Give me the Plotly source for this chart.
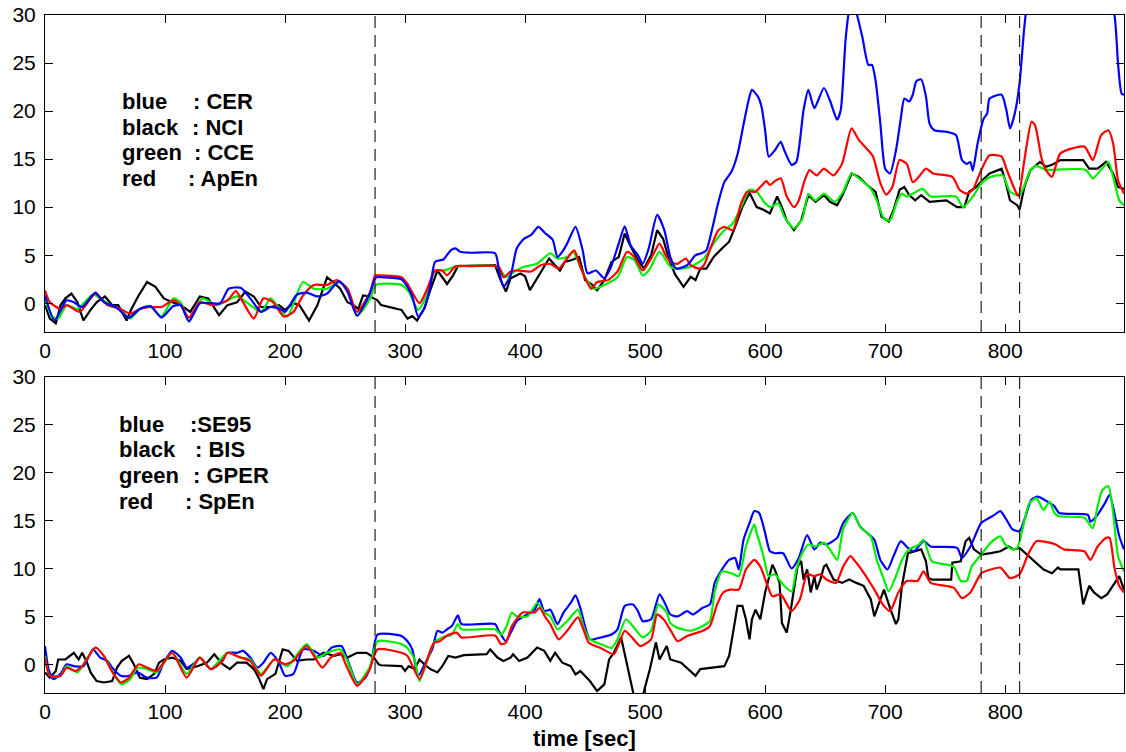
import plotly.graph_objects as go

# ---------------- data (time [sec], value) ----------------
TOP_CER = [(0,0.8),(8,-1.8),(18,0.3),(24,0.1),(31,-0.4),(42,1.1),(49,0.1),(59,-0.4),(70,-1.5),(79,-0.6),(88,-0.3),(97,-1.5),(107,-0.3),(113,-0.2),(120,-1.9),(129,0),(138,0),(146,0),(153,1.5),(163,1.6),(171,0.5),(180,-0.9),(188,-0.4),(196,-0.6),(200,-0.9),(210,0.9),(218,1.1),(227,0.7),(235,1.0),(245,2.3),(252,1.2),(260,-1.3),(270,0.8),(276,2.7),(280,2.7),(297,2.5),(302,1.7),(306,0.7),(311,-1.4),(316,-0.55),(321,1.7),(325,4.3),(332,4.55),(338,5.5),(342,5.7),(346,5.35),(354,5.25),(375,5.2),(378,3.6),(382,1.7),(388,2.9),(393,5.7),(399,6.7),(405,7.1),(411,7.95),(417,7.25),(423,6.6),(427,4.8),(431,5.35),(435,6.2),(442,7.95),(448,5.5),(452,3.1),(459,3.4),(466,2.6),(471,3.6),(478,6.2),(483,8.0),(488,6.0),(494,5.0),(498,4.1),(503,5.7),(510,9.2),(516,7.6),(521,4.8),(526,3.6),(535,3.95),(542,5.0),(547,5.2),(551,5.5),(556,7.8),(561,10.5),(566,12.6),(572,13.7),(577,15.5),(582,18.6),(586,21.0),(589,22.2),(594,21.5),(597,20.45),(600,18.0),(603,15.25),(608,15.9),(613,16.8),(616,15.9),(622,14.4),(626,14.7),(632,20.1),(636,22.2),(641,20.3),(649,22.4),(654,21.1),(660,19.1),(663,20.1),(667,27.4),(670,30.5),(673,31.5),(677,29.8),(681,27.7),(686,24.8),(689,24.8),(692,23.2),(696,18.7),(700,14.0),(704,13.5),(709,15.9),(713,19.2),(716,21.3),(720,21.0),(723,21.7),(726,23.1),(730,23.3),(734,21.5),(737,18.7),(741,18.0),(751,17.85),(759,17.5),(764,14.9),(768,14.5),(771,14.7),(773,13.8),(777,16.6),(782,19.2),(785,19.75),(787,21.3),(797,21.7),(801,20.1),(804,18.2),(808,19.75),(812,22.9),(816,28.8),(819,31.5),(830,34),(850,35),(870,34),(885,32),(891,30),(894,25),(897,21.8),(899,21.7)]
TOP_NCI = [(0,-0.2),(4,-1.6),(9,-2.1),(13,-0.2),(17,0.5),(22,1.0),(27,0.1),(32,-1.8),(38,-0.7),(43,0.1),(50,0.7),(56,-0.2),(61,-0.2),(68,-1.8),(72,-0.6),(78,0.8),(85,2.2),(92,1.7),(99,0.5),(106,0.1),(113,-0.2),(121,-0.9),(129,0.7),(136,0.5),(145,-1.25),(152,-0.2),(160,0.1),(167,1.2),(174,0.7),(180,-0.4),(188,-0.4),(195,-0.2),(200,-0.7),(207,0),(212,-0.2),(220,-1.8),(227,-0.2),(235,2.7),(240,2.2),(246,1.5),(252,0.1),(257,-0.2),(261,-0.6),(265,0.8),(271,0.7),(274,0.5),(277,0.3),(280,-0.2),(297,-0.7),(302,-1.6),(306,-1.35),(310,-1.8),(316,-0.55),(321,1.35),(327,3.4),(331,2.7),(335,2.0),(340,2.9),(344,3.85),(375,3.95),(379,2.6),(384,1.2),(388,2.6),(396,3.1),(400,2.8),(404,1.35),(409,2.4),(414,3.4),(420,4.65),(425,3.95),(429,3.4),(433,4.3),(439,4.5),(445,4.8),(450,2.4),(456,1.9),(460,1.35),(466,2.4),(472,4.3),(478,4.8),(483,7.25),(488,5.9),(494,4.5),(499,3.6),(505,5.0),(510,7.6),(515,6.7),(520,4.5),(525,3.0),(532,1.7),(538,2.75),(542,2.4),(546,3.6),(551,3.6),(557,4.8),(564,5.7),(570,6.4),(575,7.95),(581,10.0),(587,11.5),(593,10.0),(599,9.7),(604,9.35),(610,11.1),(614,10.0),(618,8.6),(624,7.6),(630,8.6),(636,11.25),(642,10.55),(649,11.25),(654,10.55),(660,10.2),(665,11.4),(672,13.5),(678,13.15),(685,12.3),(692,11.6),(697,9.0),(703,8.5),(707,9.7),(712,11.8),(716,12.1),(720,11.25),(725,10.7),(730,11.25),(737,10.55),(751,10.7),(760,10.0),(766,10.0),(770,11.6),(776,12.1),(781,12.8),(787,13.5),(797,14.0),(800,12.8),(804,10.7),(810,10.2),(812,9.75),(816,12.1),(821,13.85),(829,14.7),(834,14.2),(839,14.4),(846,14.9),(865,14.9),(870,14.0),(877,14.0),(884,14.7),(890,13.5),(894,12.1),(899,11.9)]
TOP_CCE = [(0,0.5),(6,-1.4),(11,-1.6),(18,-0.2),(27,-0.6),(40,0.9),(52,0),(63,-0.7),(71,-1.6),(79,-0.6),(88,-0.4),(97,-1.4),(107,0.5),(113,0.1),(120,-1.9),(131,0.5),(143,-0.2),(160,0.7),(171,-0.2),(180,-0.9),(188,0.5),(196,-0.7),(202,-1.4),(215,2.2),(224,1.5),(235,1.5),(245,2.2),(252,1.5),(260,-1.3),(271,0.5),(276,1.9),(297,1.9),(303,1.2),(311,-0.7),(318,0.8),(325,3.4),(332,3.4),(343,3.8),(377,3.8),(384,2.7),(391,3.3),(399,3.8),(410,4.1),(421,5.2),(427,4.65),(435,4.8),(440,5.35),(449,2.9),(457,1.5),(466,1.9),(477,2.7),(485,4.8),(491,4.5),(498,2.9),(503,3.4),(512,5.35),(521,3.8),(527,3.6),(538,3.8),(549,4.65),(557,6.2),(566,7.6),(573,8.3),(580,10.0),(587,11.8),(593,11.6),(599,10.55),(604,10.0),(611,10.4),(616,9.0),(624,7.8),(631,8.8),(636,11.35),(642,10.7),(649,11.4),(658,10.55),(665,11.6),(672,13.5),(680,12.8),(688,11.9),(693,10.7),(699,8.8),(704,8.6),(710,10.6),(714,11.4),(718,11.1),(723,11.4),(731,11.9),(738,11.1),(759,11.1),(765,10.0),(773,11.1),(781,12.6),(788,13.15),(798,13.3),(804,11.6),(812,11.25),(821,13.85),(826,14.3),(834,13.9),(867,13.9),(873,13.0),(880,13.9),(886,14.7),(890,13.15),(895,10.7),(899,10.2)]
TOP_APEN = [(0,1.35),(4,0.1),(13,-0.6),(18,-0.2),(29,-0.9),(42,1.0),(52,-0.2),(63,-0.6),(71,-1.1),(79,-0.6),(88,-0.4),(97,-0.4),(107,0.3),(113,-0.2),(120,-1.5),(129,0.1),(140,-0.2),(152,0.3),(159,1.25),(165,0.1),(174,-1.6),(182,0.5),(190,0.1),(199,-1.4),(207,-0.9),(215,0.8),(224,1.9),(235,1.9),(243,2.4),(252,1.5),(260,-0.9),(271,1.2),(275,2.9),(277,2.9),(297,2.7),(302,2.0),(312,0),(318,1.35),(325,3.4),(331,3.4),(335,2.9),(342,3.85),(354,3.85),(378,3.8),(382,2.7),(388,3.3),(393,3.4),(405,3.3),(413,3.95),(421,4.1),(428,3.6),(435,4.65),(441,5.5),(446,3.8),(455,1.5),(460,2.2),(469,2.4),(477,3.3),(485,5.35),(491,4.8),(498,3.4),(505,4.65),(512,6.2),(517,5.0),(521,4.3),(527,4.1),(534,4.65),(538,3.95),(545,3.6),(549,3.95),(555,5.9),(561,7.6),(566,7.95),(573,7.6),(580,10.4),(585,11.6),(592,11.6),(596,12.1),(601,12.7),(604,12.3),(608,12.7),(613,13.0),(618,11.1),(624,10.0),(628,10.7),(633,12.8),(637,13.85),(643,13.3),(649,14.0),(657,13.3),(664,14.5),(672,18.2),(678,17.0),(686,15.9),(690,15.25),(696,12.5),(701,11.3),(706,12.1),(712,14.9),(718,14.5),(723,12.6),(728,13.15),(734,14.0),(740,13.5),(756,13.15),(762,11.8),(768,11.4),(773,11.8),(780,13.85),(787,15.4),(797,15.25),(801,14.0),(807,12.1),(811,11.15),(816,14.9),(822,18.9),(825,18.5),(830,15.25),(834,13.85),(839,13.15),(846,15.6),(866,16.3),(873,14.9),(880,17.5),(886,18.0),(890,16.6),(894,12.8),(899,11.4)]

BOT_SE95 = [(0,1.9),(3,-0.5),(7,-1.55),(13,-1.0),(18,0),(24,-0.2),(32,-0.2),(40,1.55),(46,0.7),(52,0.35),(56,-0.35),(63,-1.2),(70,-1.2),(77,-0.85),(85,-1.4),(93,-1.4),(99,0.17),(106,1.4),(113,0.7),(118,-0.35),(125,0.17),(129,0.7),(138,-0.5),(143,-0.2),(152,1.2),(160,1.2),(165,1.4),(171,0.7),(177,-0.35),(182,0.17),(188,1.2),(195,0.17),(200,-1.2),(207,-1.0),(215,1.55),(224,1.4),(232,0.87),(239,1.75),(247,1.9),(253,0.17),(260,-1.9),(267,-1.4),(272,0.17),(277,3.1),(297,2.95),(302,2.4),(306,1.55),(311,-1.2),(317,0.17),(323,1.7),(327,3.5),(331,3.3),(335,3.65),(339,4.0),(344,5.1),(347,4.2),(375,4.2),(378,3.5),(384,2.4),(388,3.3),(393,4.5),(399,5.0),(408,5.7),(412,6.8),(416,5.55),(421,5.7),(427,4.2),(432,5.4),(438,6.4),(442,7.2),(446,5.9),(454,2.6),(463,2.8),(472,3.1),(477,3.65),(483,6.1),(490,6.25),(494,5.55),(498,4.5),(505,4.7),(512,7.3),(517,6.25),(521,5.2),(527,5.0),(535,5.55),(540,5.2),(548,5.9),(554,6.25),(558,8.5),(564,9.9),(570,10.9),(575,11.1),(578,9.9),(582,13.0),(587,14.75),(591,16.0),(595,15.8),(600,13.7),(604,11.8),(608,11.6),(615,11.6),(622,10.0),(628,11.1),(635,13.5),(641,12.0),(646,12.7),(651,12.5),(660,13.2),(665,14.75),(673,15.8),(679,14.4),(685,13.7),(691,13.0),(696,10.9),(702,9.9),(707,11.3),(713,12.85),(719,12.15),(724,11.8),(732,12.85),(738,12.3),(760,12.15),(764,11.1),(771,12.3),(780,14.75),(787,15.3),(791,15.6),(796,16.0),(802,14.9),(806,14.1),(812,13.9),(816,15.1),(822,17.2),(827,17.5),(835,17.0),(841,16.5),(845,15.8),(869,15.6),(871,14.9),(876,15.45),(883,16.8),(887,17.7),(891,15.8),(895,13.4),(899,12.0)]
BOT_BIS = [(0,-0.85),(4,-1.4),(9,-0.7),(11,0.5),(17,0.5),(21,0.87),(24,1.2),(28,0.5),(31,1.2),(35,0.17),(38,-0.85),(43,-1.75),(49,-1.9),(56,-1.75),(60,-0.35),(64,0.35),(70,0.87),(74,0),(79,-1.4),(85,-1.55),(91,-1.0),(95,0.17),(99,0.5),(106,0.7),(113,0.35),(118,-0.5),(127,-0.2),(135,0.17),(141,1.05),(148,0),(154,-0.5),(160,0.17),(168,0.17),(174,-0.5),(178,-1.4),(182,-2.6),(185,-1.55),(192,-1.0),(198,1.55),(203,1.4),(210,0.35),(218,0.5),(224,0.5),(232,1.2),(241,0.87),(246,1.05),(252,0.7),(260,1.2),(268,1.2),(274,0.7),(278,0),(280,-0.1),(297,-0.2),(300,-0.7),(303,-0.2),(308,-0.5),(312,0.5),(316,0),(321,-0.5),(327,-0.85),(331,-0.2),(336,0.87),(342,0.7),(349,0.95),(368,1.05),(371,1.55),(377,0.7),(382,0.35),(388,0.7),(390,1.05),(395,0.35),(402,0.7),(410,1.75),(416,1.4),(421,0.35),(425,1.2),(431,0.17),(438,-0.2),(442,-1.05),(446,-0.7),(454,-1.75),(460,-2.8),(466,-2.1),(470,0.5),(474,1.2),(480,2.8),(485,-0.2),(491,-3.5),(498,-3.3),(504,-0.5),(509,2.3),(512,0.5),(518,1.9),(521,0.5),(530,0.17),(538,-0.7),(542,-1.2),(546,-0.5),(555,-0.35),(566,-0.2),(570,0.87),(573,2.95),(577,6.1),(581,6.1),(584,4.7),(587,2.6),(589,4.7),(592,5.7),(596,4.7),(600,7.5),(603,8.85),(606,10.4),(608,9.9),(612,8.5),(614,4.3),(618,3.3),(621,5.4),(624,7.8),(627,10.2),(630,10.8),(632,8.85),(635,9.9),(638,7.5),(641,9.2),(643,7.8),(646,8.85),(649,10.2),(651,10.4),(657,8.85),(664,8.5),(670,8.85),(676,8.5),(682,8.2),(688,6.8),(691,5.0),(695,6.4),(699,7.8),(704,5.9),(709,4.2),(711,4.7),(714,8.2),(719,11.6),(724,11.8),(730,12.0),(734,10.75),(736,9.0),(739,8.85),(755,8.85),(756,10.6),(763,10.75),(767,12.85),(770,13.2),(774,12.0),(780,11.45),(788,11.6),(796,11.8),(803,12.3),(807,12.0),(812,12.15),(817,11.6),(826,10.6),(832,9.9),(839,9.5),(844,10.1),(846,9.9),(861,9.9),(865,6.25),(870,8.2),(874,7.5),(880,6.9),(885,7.3),(891,8.5),(895,9.2),(899,7.8)]
BOT_GPER = [(0,0.87),(4,-1.2),(13,-1.2),(18,-0.2),(27,-0.85),(32,0),(42,1.75),(50,0.7),(57,-1.0),(64,-2.1),(71,-1.55),(77,-0.35),(85,-0.5),(93,-0.85),(106,1.2),(118,-1.0),(129,0.7),(138,-0.5),(152,1.2),(163,0.7),(171,0.5),(180,-1.0),(191,0.5),(202,-0.2),(207,0.5),(218,2.1),(227,0.7),(235,1.2),(246,1.55),(252,0.35),(260,-2.1),(271,-0.2),(277,2.4),(297,2.1),(302,1.7),(308,0.5),(312,-1.75),(318,0.17),(324,2.25),(331,2.8),(339,3.1),(344,4.2),(347,3.65),(375,3.65),(380,3.1),(384,3.8),(389,5.4),(393,5.0),(402,5.0),(410,6.4),(416,5.4),(421,5.0),(427,3.65),(435,4.5),(444,5.7),(449,3.8),(454,2.6),(463,2.1),(472,1.7),(477,2.6),(484,4.7),(491,3.8),(498,2.8),(505,3.5),(511,6.25),(518,5.4),(521,4.3),(527,3.8),(538,3.5),(548,4.0),(554,4.5),(558,7.6),(564,9.7),(572,9.5),(578,9.2),(584,12.3),(591,14.6),(593,13.7),(598,11.6),(603,9.2),(608,9.4),(615,8.3),(622,7.6),(626,9.9),(631,11.6),(636,12.5),(642,12.3),(649,12.7),(654,12.0),(660,10.9),(665,14.1),(673,15.8),(679,14.4),(688,13.35),(693,10.9),(699,8.85),(703,7.6),(709,9.2),(714,10.9),(720,12.0),(728,12.5),(732,13.0),(739,10.75),(757,10.2),(763,8.7),(768,8.7),(772,10.2),(780,11.45),(788,12.7),(796,13.35),(800,12.5),(806,12.0),(810,12.15),(815,14.4),(820,16.8),(826,17.35),(832,16.1),(837,17.0),(841,15.8),(845,15.45),(866,15.3),(873,14.2),(877,16.5),(881,18.2),(886,18.6),(890,15.8),(894,11.3),(899,9.7)]
BOT_SPEN = [(0,0.7),(4,-1.2),(13,-1.2),(18,-0.35),(25,-0.7),(31,-0.2),(42,1.75),(49,0.87),(54,-0.35),(63,-1.9),(70,-1.4),(78,0),(85,-0.35),(93,-0.7),(106,1.2),(118,-1.4),(129,0.7),(138,-0.5),(148,0.35),(152,1.2),(163,0.7),(171,0.35),(180,-1.2),(191,0.5),(200,0),(207,0.35),(218,1.9),(231,-0.35),(238,0.7),(246,1.2),(250,0.17),(260,-2.25),(270,-0.7),(277,1.55),(297,1.2),(302,0.87),(312,-1.55),(318,0.35),(324,2.25),(329,2.4),(335,3.0),(343,3.3),(347,2.8),(375,3.0),(380,2.1),(384,2.25),(389,4.0),(398,5.4),(408,5.4),(412,5.9),(417,4.9),(421,4.2),(428,2.6),(435,3.5),(444,4.9),(449,3.5),(453,2.25),(463,1.7),(474,1.05),(483,3.5),(488,2.95),(496,1.9),(505,2.6),(510,5.2),(516,4.6),(521,3.6),(527,2.4),(535,2.95),(548,3.5),(554,4.0),(560,6.25),(565,7.5),(571,7.8),(578,7.8),(584,9.9),(591,10.9),(596,10.2),(602,8.2),(606,7.1),(613,7.3),(622,5.55),(629,6.8),(635,9.4),(641,9.2),(646,9.4),(651,8.85),(659,8.5),(665,10.2),(671,11.3),(676,10.6),(683,9.4),(691,7.8),(698,6.25),(704,5.55),(711,7.5),(718,8.7),(727,8.7),(732,9.7),(738,8.5),(757,8.0),(764,6.9),(771,7.5),(780,9.5),(788,9.9),(796,10.1),(804,9.0),(812,9.4),(819,11.45),(826,12.85),(837,12.7),(842,12.5),(849,12.0),(866,11.8),(871,10.9),(877,12.3),(884,13.2),(887,13.2),(891,10.1),(895,8.2),(899,7.5)]

EVENT_TIMES = [275, 780, 812]
X_TICKS = [0, 100, 200, 300, 400, 500, 600, 700, 800]
Y_TICKS = [0, 5, 10, 15, 20, 25, 30]
TOP_LABELS = [("blue", ": CER"), ("black", ": NCI"), ("green", ": CCE"), ("red", ": ApEn")]
BOT_LABELS = [("blue", ":SE95"), ("black", ": BIS"), ("green", ": GPER"), ("red", ": SpEn")]

# ---------------- figure ----------------
W, H = 1126, 752
ML, MR, MT, MB = 45, 2, 15, 59
PW, PH = W - ML - MR, H - MT - MB
FONT = "Arial, Liberation Sans, Helvetica, sans-serif"

def px_x(px):
    return (px - ML) / PW

def px_y(py):
    return (H - MB - py) / PH

fig = go.Figure()

def add(series, color, xa, ya, smooth=True):
    t = [p[0] for p in series]
    v = [p[1] for p in series]
    line = dict(color=color, width=2.2)
    if smooth:
        line.update(shape="spline", smoothing=0.6)
    fig.add_trace(go.Scatter(x=t, y=v, mode="lines", xaxis=xa, yaxis=ya,
                             line=line, showlegend=False, hoverinfo="skip"))

add(TOP_NCI, "#000000", "x", "y", smooth=False)
add(TOP_CCE, "#00ee00", "x", "y")
add(TOP_APEN, "#ff0000", "x", "y")
add(TOP_CER, "#0000ff", "x", "y")

add(BOT_BIS, "#000000", "x2", "y2", smooth=False)
add(BOT_SE95, "#0000ff", "x2", "y2")
add(BOT_GPER, "#00ee00", "x2", "y2")
add(BOT_SPEN, "#ff0000", "x2", "y2")

top_dom = [px_y(332), 1.0]
bot_dom = [0.0, px_y(377)]

axis_common = dict(range=[0, 899], tickvals=X_TICKS, ticks="inside", ticklen=8,
                   tickcolor="black", showline=True, linecolor="black", linewidth=1,
                   mirror="ticks", showgrid=False, zeroline=False, automargin=False,
                   tickfont=dict(family=FONT, size=21, color="black"))
yaxis_common = dict(range=[-3, 30], tickvals=Y_TICKS, ticks="inside", ticklen=8,
                    tickcolor="black", showline=True, linecolor="black", linewidth=1,
                    mirror="ticks", showgrid=False, zeroline=False, automargin=False,
                    ticklabelstandoff=4,
                    tickfont=dict(family=FONT, size=21, color="black"))

fig.update_layout(
    width=W, height=H,
    margin=dict(l=ML, r=MR, t=MT, b=MB, autoexpand=False),
    paper_bgcolor="white", plot_bgcolor="white",
    xaxis=dict(domain=[0, 1], anchor="y", **axis_common),
    yaxis=dict(domain=top_dom, anchor="x", **yaxis_common),
    xaxis2=dict(domain=[0, 1], anchor="y2", **axis_common),
    yaxis2=dict(domain=bot_dom, anchor="x2", **yaxis_common),
)

shapes = []
for xr, yr in (("x", "y domain"), ("x2", "y2 domain")):
    for t in EVENT_TIMES:
        shapes.append(dict(type="line", xref=xr, yref=yr, x0=t, x1=t, y0=0, y1=1,
                           line=dict(color="#222222", width=1.2, dash="12px,7px")))
fig.update_layout(shapes=shapes)

ann = []
def legend_block(labels, x_word, x_colon, y_list):
    for (word, rest), xc, yc in zip(labels, x_colon, y_list):
        ann.append(dict(text="<b>%s</b>" % word, x=px_x(x_word), y=px_y(yc), xref="paper",
                        yref="paper", xanchor="left", yanchor="middle", showarrow=False,
                        font=dict(family=FONT, size=22, color="black")))
        ann.append(dict(text="<b>%s</b>" % rest, x=px_x(xc), y=px_y(yc), xref="paper",
                        yref="paper", xanchor="left", yanchor="middle", showarrow=False,
                        font=dict(family=FONT, size=22, color="black")))

legend_block(TOP_LABELS, 120, [191, 190, 192, 186], [101, 127, 152, 178])
legend_block(BOT_LABELS, 117, [188, 193, 191, 183], [424, 449, 475, 501])

ann.append(dict(text="<b>time [sec]</b>", x=px_x(584), y=px_y(738), xref="paper", yref="paper",
                xanchor="center", yanchor="middle", showarrow=False,
                font=dict(family=FONT, size=22, color="black")))
fig.update_layout(annotations=ann)

fig.write_html("out.html", config={"displayModeBar": False},
               post_script="document.body.style.margin='0';document.body.style.padding='0';")
